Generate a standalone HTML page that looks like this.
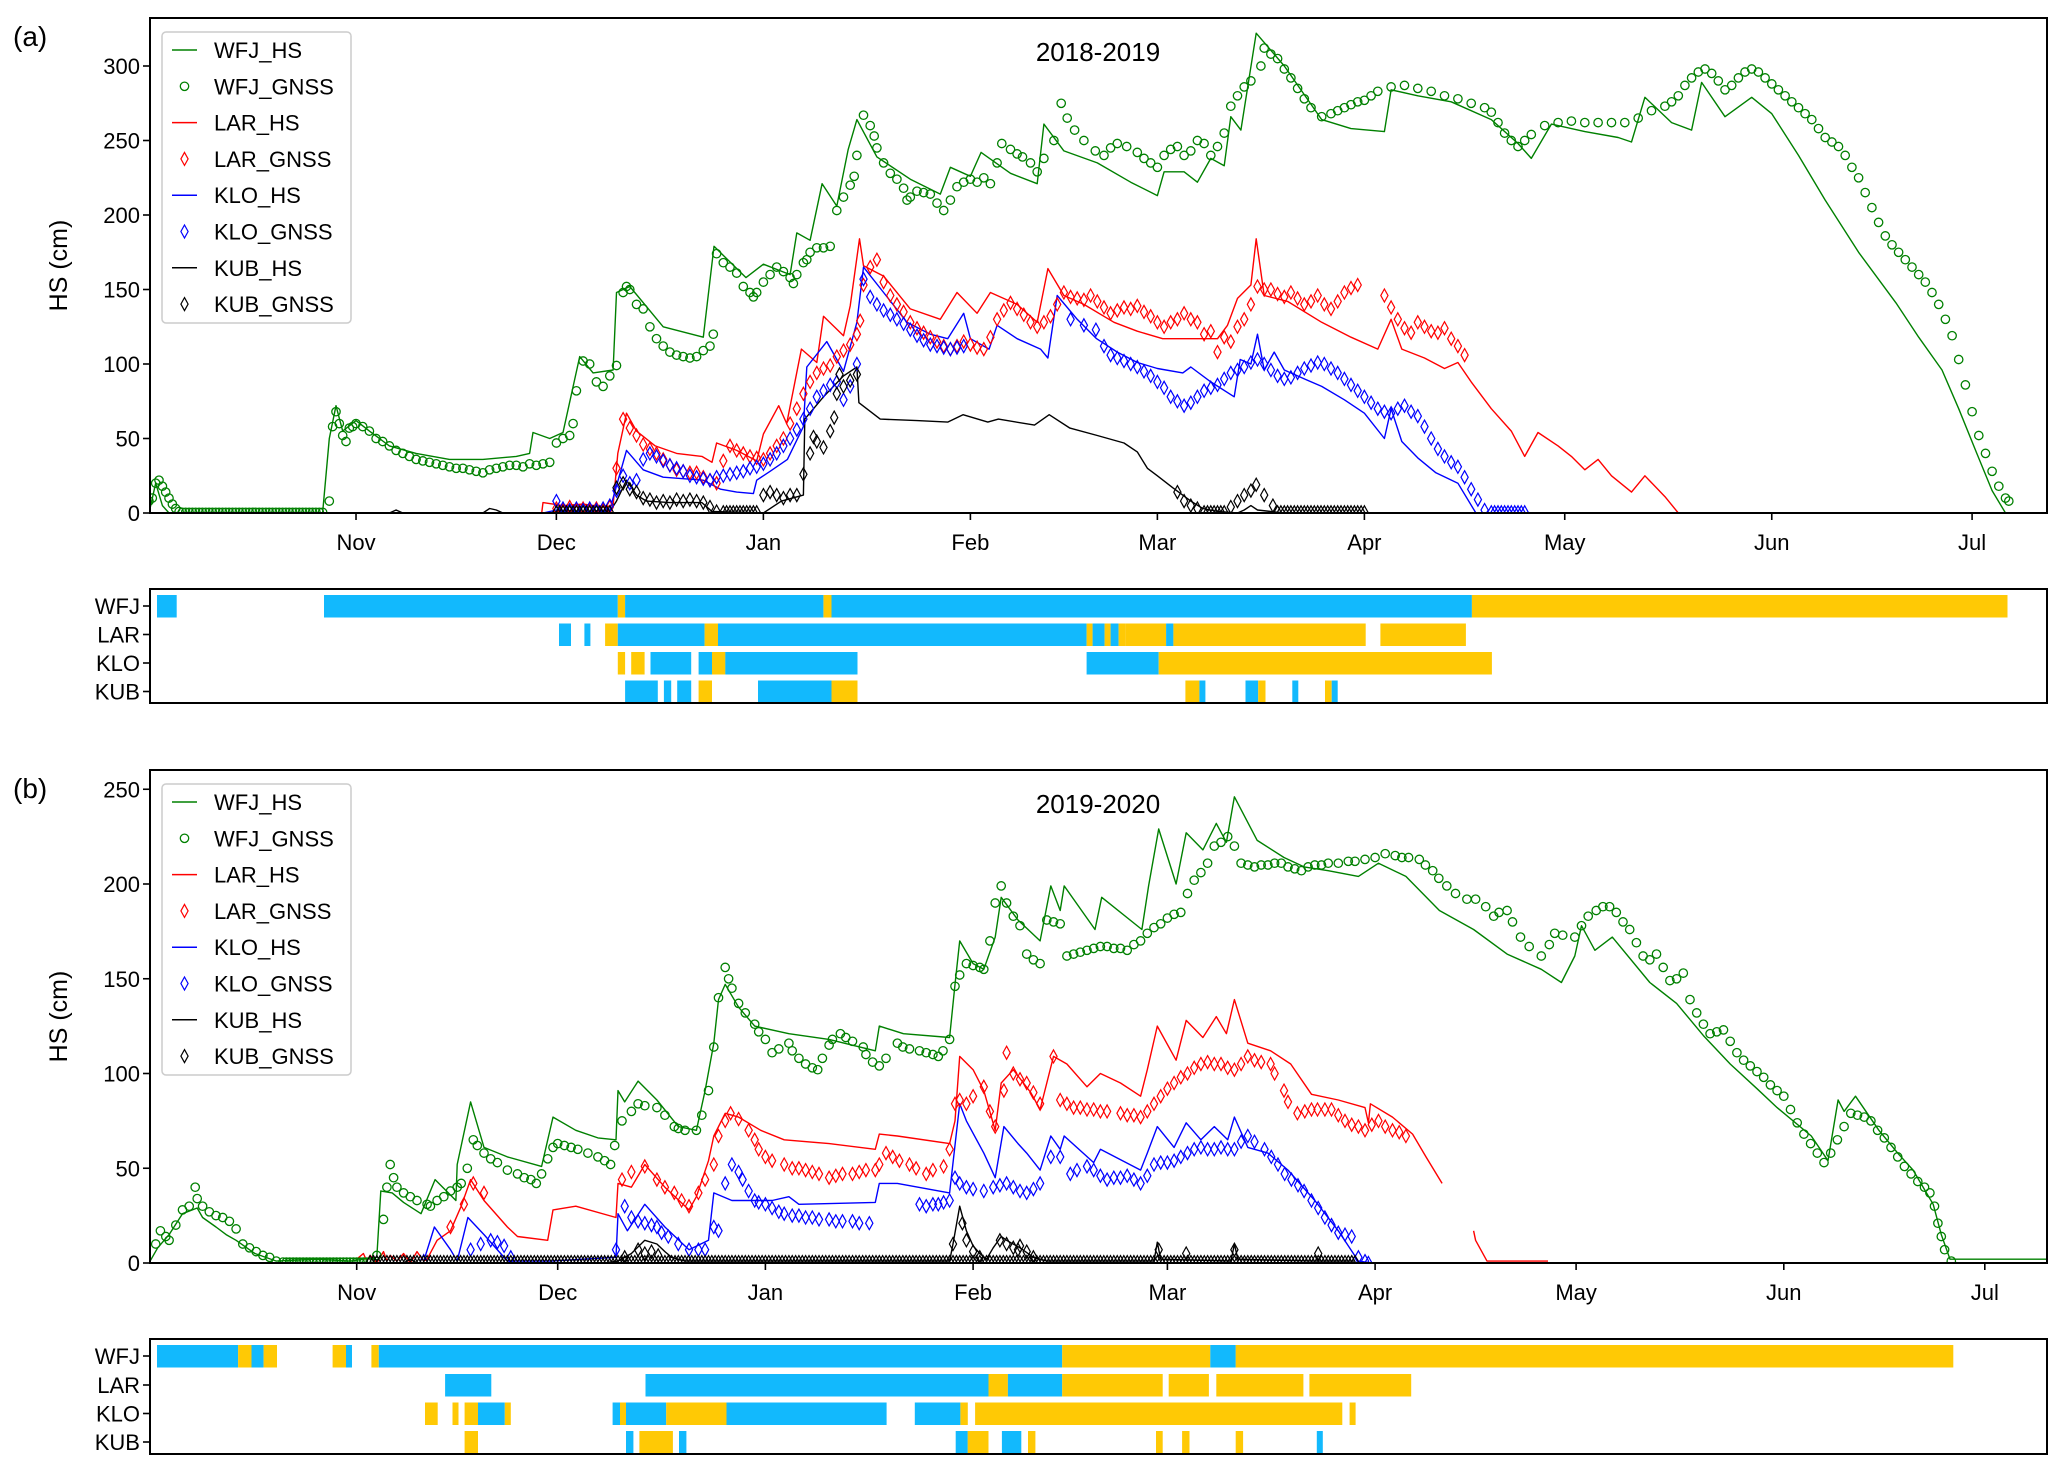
<!DOCTYPE html>
<html><head><meta charset="utf-8"><style>
html,body{margin:0;padding:0;background:#fff;}
svg{display:block;font-family:"Liberation Sans","DejaVu Sans",sans-serif;}
</style></head><body>
<svg id="fig" width="2067" height="1474" viewBox="0 0 2067 1474" xmlns="http://www.w3.org/2000/svg">
<defs>
<clipPath id="clipA"><rect x="150" y="18" width="1897" height="495"/></clipPath>
<clipPath id="clipB"><rect x="150" y="770" width="1897" height="493"/></clipPath>
</defs>
</svg>
<script>
const MONTH_LABELS=["Nov","Dec","Jan","Feb","Mar","Apr","May","Jun","Jul"];
const A_MONTH_DAYS=[31,61,92,123,151,182,212,243,273];
const B_MONTH_DAYS=[31,61,92,123,152,183,213,244,274];
const A_Y_TICKS=[0,50,100,150,200,250,300];
const B_Y_TICKS=[0,50,100,150,200,250];
const STATIONS=["WFJ","LAR","KLO","KUB"];

const A_WFJ_HS=[[0,0],[1,20],[2,5],[3,0],[26,0],[27,50],[28,72],[29,55],[31,62],[33,55],[36,45],[40,40],[45,36],[50,36],[55,38],[57,40],[57.5,54],[60,50],[62,54],[64.5,105],[66.5,94],[69.5,96],[70,148],[72,152],[77,125],[83,118],[84.6,179],[89.4,158],[92,167],[96,160],[97,188],[99,183],[100.8,221],[103,206],[104.7,244],[106,264],[109,239],[114,224],[118.5,214],[120,232],[123,226],[124.6,242],[129,228],[133,221],[134,261],[137,243],[142,235],[147,222],[151,213],[152,229],[155,229],[157,222],[159,238],[161,233],[162,266],[163.5,257],[165.8,322],[170,300],[175.6,264],[180,258],[185,256],[186,284],[190,280],[195,276],[201,264],[205,248],[207,238],[210,261],[215,256],[220,252],[222,249],[224,279],[228,262],[231,257],[232.5,289],[236,266],[240,279],[243,268],[247,240],[251,210],[256,175],[261.6,141],[265,118],[268.5,96],[271,70],[273.7,40],[276,15],[278,0],[284,0]];
const A_WFJ_GNSS=[[0,8],[0.5,10],[1,20],[1.5,22],[2,18],[2.5,14],[3,10],[3.5,6],[4,3],[4.5,1],[27,8],[27.5,58],[28,68],[28.5,60],[29,52],[29.5,48],[30,57],[30.5,58],[31,60],[32,58],[33,55],[34,50],[35,48],[36,45],[37,42],[38,40],[39,38],[40,36],[41,35],[42,34],[43,33],[44,32],[45,31],[46,30],[47,30],[48,29],[49,28],[50,27],[51,29],[52,30],[53,31],[54,32],[55,32],[56,31],[57,33],[58,32],[59,33],[60,34],[61,47],[62,50],[63,52],[63.5,60],[64,82],[65,102],[66,100],[67,88],[68,85],[69,92],[70,99],[71,148],[71.5,152],[72,150],[73,140],[74,137],[75,125],[76,117],[77,112],[78,108],[79,106],[80,105],[81,104],[82,105],[83,109],[84,112],[84.5,120],[85,174],[86,168],[87,165],[88,161],[89,152],[90,148],[90.5,145],[91,148],[92,155],[93,160],[94,165],[95,162],[96,158],[96.5,154],[97,160],[98,168],[98.5,170],[99,175],[100,178],[101,178],[102,179],[103,203],[104,212],[105,220],[105.6,226],[106,240],[107,267],[108,260],[108.6,253],[109,245],[110,235],[111,228],[112,224],[113,218],[113.5,210],[114,212],[115,216],[116,215],[117,214],[118,208],[119,203],[120,210],[121,219],[122,222],[123,224],[124,222],[125,225],[126,221],[127,235],[127.7,248],[129,244],[130,241],[130.8,239],[132,235],[133,229],[134,238],[135.5,250],[136.6,275],[137.5,265],[138.6,257],[140,250],[141.7,243],[143,240],[144,245],[145,248],[146.4,246],[148,242],[149,238],[150,235],[151,232],[152,240],[153,244],[154,246],[155,240],[156,243],[157,250],[158,248],[159,240],[160,246],[161,255],[162,273],[163,280],[164,286],[165,290],[166.5,300],[167,312],[168,308],[169,305],[170,298],[171,292],[172,285],[173,278],[174,272],[175.6,266],[177,268],[178,270],[179,272],[180,274],[181,276],[182,277],[183,280],[184,283],[186,286],[188,287],[190,285],[192,283],[194,280],[196,278],[198,275],[200,272],[201,269],[202,262],[203,255],[204,250],[205,246],[206,250],[207,254],[209,260],[211,262],[213,263],[215,262],[217,262],[219,262],[221,262],[223,265],[225,270],[227,273],[228,276],[229,280],[230,287],[231,292],[232,296],[233,298],[234,295],[235,290],[236,284],[237,287],[238,292],[239,296],[240,298],[241,296],[242,292],[243,288],[244,284],[245,280],[246,276],[247,272],[248,268],[249,264],[250,258],[251,252],[252,249],[253,246],[254,240],[255,232],[256,225],[257,215],[258,205],[259,195],[260,186],[261,180],[262,175],[263,170],[264,165],[265,160],[266,155],[267,148],[268,140],[269,130],[270,119],[271,103],[272,86],[273,68],[274,52],[275,40],[276,28],[277,18],[278,10],[278.5,8]];
const A_WFJ_GNSS_ZEROS=[[5,26]];
const A_LAR_HS=[[58.8,0],[59,7],[62,5],[65,6],[68,4],[69.5,5],[70.2,40],[71.5,67],[73,55],[75.8,45],[79,40],[82.8,38],[84.3,34],[85,47],[88,42],[91,35],[92,53],[94.3,72],[95.5,60],[97.7,110],[100,101],[101,132],[104,119],[105,139],[106.4,184],[107,166],[110,159],[114,137],[118.5,130],[121,148],[124,134],[126,148],[130,140],[133,128],[134.6,164],[137,146],[140,140],[144.5,128],[148,122],[151.8,117],[155,117],[160,117],[161.5,126],[163,144],[165,153],[165.8,184],[167,146],[170.5,142],[175.6,128],[180,118],[184,110],[186,130],[187.6,110],[191,104],[194,97],[196,101],[198,88],[201,70],[204,55],[206,38],[208,54],[211,45],[213,38],[215,29],[217,36],[219,25],[222,14],[224,25],[227,11],[229,0]];
const A_LAR_GNSS=[[61,3],[62,2],[63,4],[64,2],[65,3],[66,2],[67,3],[68,2],[69,4],[70,30],[71,63],[72,57],[73,52],[74,46],[75,43],[76,40],[77,36],[78,32],[79,29],[80,28],[81,27],[82,27],[83,24],[84,22],[85,20],[86,35],[87,45],[88,42],[89,40],[90,38],[91,37],[92,36],[93,40],[94,45],[95,50],[96,60],[97,70],[98,80],[99,88],[100,94],[101,97],[102,99],[103,105],[104,109],[105,113],[106,120],[106.5,129],[107,153],[108,165],[109,170],[110,155],[111,146],[112,140],[113,135],[114,128],[115,124],[116,121],[117,118],[118,115],[119,112],[120,110],[121,112],[122,115],[123,113],[124,111],[125,110],[126,118],[127,130],[128,136],[129,141],[130,137],[131,133],[132,128],[133,125],[134,128],[135,132],[136,140],[137,148],[138,145],[139,144],[140,143],[141,146],[142,142],[143,138],[144,134],[145,136],[146,138],[147,137],[148,139],[149,135],[150,132],[151,128],[152,125],[153,128],[154,130],[155,134],[156,130],[157,128],[158,120],[159,122],[160,108],[161,118],[162,115],[163,125],[164,130],[165,140],[166,152],[167,150],[168,150],[169,147],[170,145],[171,148],[172,144],[173,140],[174,142],[175,146],[176,140],[177,137],[178,142],[179,148],[180,151],[181,153],[185,146],[186,138],[187,130],[188,124],[189,121],[190,128],[191,125],[192,122],[193,121],[194,124],[195,117],[196,112],[197,106]];
const A_KLO_HS=[[59,0],[61,2],[65,1],[69,2],[69.5,10],[71.5,42],[74,29],[77,24],[80,23],[83,22],[85.6,16],[88,14],[90.5,13],[91,22],[93,28],[95.6,36],[98,58],[98.5,98],[101.5,115],[104,95],[106,128],[107,165],[110,148],[113.5,128],[117,120],[119.6,117],[122,134],[123,117],[125.8,110],[127,126],[130,117],[133.5,110],[134.6,104],[136,146],[139,130],[141.9,117],[145,108],[148,101],[151,97],[154.8,94],[156,98],[159,88],[162.5,78],[163.4,103],[165,100],[166,120],[167,96],[168.5,108],[170,96],[173,90],[175.6,85],[179,76],[182,67],[185,50],[186,70],[187.6,48],[190,37],[192.7,27],[196,20],[198.7,0],[206,0]];
const A_KLO_GNSS=[[61,8],[62,3],[63,2],[64,3],[65,2],[66,3],[67,2],[68,3],[69,5],[70,15],[71,25],[72,20],[73,22],[74,36],[75,40],[76,38],[77,35],[78,32],[79,30],[80,28],[81,25],[82,24],[83,23],[84,22],[85,24],[86,25],[87,26],[88,27],[89,28],[90,30],[91,31],[92,33],[93,36],[94,40],[95,45],[96,50],[97,56],[98,63],[99,70],[100,78],[101,82],[102,86],[103,88],[104,76],[105,85],[106,100],[107,157],[108,145],[109,140],[110,136],[111,133],[112,130],[113,127],[114,123],[115,119],[116,116],[117,113],[118,112],[119,111],[120,110],[121,111],[122,112],[138,130],[140,126],[141.8,123],[143,112],[144,106],[145,104],[146,102],[147,100],[148,98],[149,95],[150,92],[151,88],[152,84],[153,78],[154,75],[155,72],[156,74],[157,78],[158,82],[159,84],[160,86],[161,90],[162,94],[163,96],[164,98],[165,101],[166,103],[167,100],[168,96],[169,92],[170,90],[171,91],[172,94],[173,97],[174,99],[175,101],[176,100],[177,97],[178,94],[179,90],[180,86],[181,82],[182,78],[183,74],[184,70],[185,68],[186,67],[187,70],[188,72],[189,68],[190,65],[191,58],[192,50],[193,43],[194,38],[195,34],[196,31],[197,24],[198,16],[199,9],[200,2]];
const A_KLO_GNSS_ZEROS=[[201,206]];
const A_KUB_HS=[[30,0],[36,0],[37,2],[38,0],[50,0],[51,3],[52,2],[53,0],[60,0],[61,1],[69,1],[70,8],[71.5,22],[73,12],[74.5,8],[78,7],[82.8,7],[84.3,1],[92,0],[94.7,8],[98,12],[98.2,63],[101,78],[104,92],[106,98],[106.3,74],[109.5,63],[115,62],[119.6,61],[121.9,66],[125.6,61],[127.2,63],[132.6,59],[134.8,66],[137.9,57],[142,52],[146,47],[148,41],[149.5,30],[151,25],[153.3,17],[156,8],[157.8,3],[160,1],[163,0],[164,2],[165,5],[166,2],[170,0],[182,0]];
const A_KUB_GNSS=[[70,17],[71,20],[72,16],[73,14],[74,10],[75,9],[76,7],[77,8],[78,7],[79,9],[80,8],[81,9],[82,8],[83,7],[84,4],[85,1],[92,12],[93,14],[94,12],[95,10],[96,12],[97,12],[98,26],[99,40],[99.5,51],[100,48],[101,44],[102,55],[102.6,64],[103,80],[103.4,93],[104,85],[105,89],[106,93],[154,14],[155,8],[156,5],[157,3],[162,4],[163,8],[164,12],[165,15],[165.8,19],[167,12],[168.3,5]];
const A_KUB_GNSS_ZEROS=[[61,69],[86,91],[158,161],[169,182]];

const B_WFJ_HS=[[0,0],[1.3,8],[3,15],[5,26],[7.2,29],[8,24],[10,19],[11.5,15],[13,12],[15.8,5],[19,1],[25,2],[30,1],[34,3],[34.6,38],[36.3,37],[38,32],[40.6,26],[42.7,44],[45.8,33],[46,52],[48,85],[50,61],[53.5,56],[58.6,51],[60.3,77],[63.7,70],[67,66],[69.7,65],[70,91],[71,85],[73,96],[75.8,86],[79,72],[81.7,70],[83,91],[84.3,116],[85,139],[86,147],[88,135],[90.4,125],[95.5,121],[101.5,118],[108.4,112],[109,125],[112.6,121],[119.5,119],[120.3,147],[121,170],[123,158],[124.6,155],[126.3,172],[127.2,193],[129.7,181],[133,170],[134.6,199],[136,186],[136.6,199],[141.2,176],[142.2,193],[148.2,176],[149.2,199],[150.7,229],[153.3,200],[154.8,227],[157.3,218],[159.3,232],[160.8,222],[162,246],[165.4,223],[169.4,214],[172.4,209],[176,207],[180.5,204],[183.5,211],[187.6,204],[192.6,186],[197.7,176],[202.7,163],[207.8,155],[210.8,148],[212.8,162],[213.8,178],[215.8,165],[218.4,172],[224,148],[228,137],[232,120],[236,105],[240,92],[243,82],[248.1,67],[250.6,54],[252.1,86],[253,80],[254.7,88],[258.2,70],[261,58],[263.3,49],[266.3,31],[267.5,15],[268.8,2],[284,2]];
const B_WFJ_GNSS=[[1,10],[1.7,17],[2.5,14],[3,12],[4,20],[5,28],[6,30],[6.9,40],[7.2,34],[8,30],[9,27],[10,25],[11,24],[12,22],[13,18],[14,10],[15,8],[16,6],[17,4],[18,3],[19,1],[34,4],[35,23],[35.5,40],[36,52],[36.5,45],[37,40],[38,37],[39,35],[40,33],[41.5,31],[42,30],[43,33],[44,35],[45,38],[46,40],[46.6,42],[47.5,50],[48.4,65],[49,62],[50,58],[51,55],[52,53],[53.5,49],[55,47],[56,45],[57,44],[57.8,42],[58.6,47],[59.5,55],[60.3,61],[61,63],[62,62],[63,61],[64,60],[65.5,58],[67,56],[68,54],[68.9,52],[69.5,62],[70.6,75],[72,80],[73,84],[74,83],[75.8,82],[77,78],[78.4,72],[79,71],[80,70],[81.7,70],[82.5,78],[83.5,91],[84.3,114],[85,140],[86,156],[86.5,150],[87,145],[88,137],[89,132],[90.4,126],[91,122],[92,118],[93,111],[94,113],[95.5,116],[96,112],[97,108],[98,105],[99,103],[99.8,102],[100.5,108],[101.5,115],[102,118],[103.2,121],[104,119],[105,117],[106.6,114],[107,110],[108,106],[109,104],[110,108],[111.7,116],[112.5,114],[113.5,113],[115,112],[116,111],[117,110],[117.8,109],[118.5,112],[119.5,118],[120.3,146],[121,152],[122,158],[123,157],[124,156],[124.6,155],[125.5,170],[126.3,190],[127.2,199],[128,190],[129,183],[130,178],[131,163],[132,160],[133,158],[134,181],[135,180],[136,179],[137,162],[138,163],[139,164],[140,165],[141,166],[142,167],[143,167],[144,166],[145,166],[146,165],[147,168],[148,170],[149,174],[150,177],[151,179],[152,182],[153,184],[154,185],[155,195],[156,202],[157,206],[158,211],[159,220],[160,222],[161,225],[162,220],[163,211],[164,210],[165,209],[166,210],[167,210],[168,211],[169,211],[170,209],[171,208],[172,207],[173,209],[174,210],[175,210],[176,211],[177.5,211],[179,212],[180,212],[181.5,213],[183,214],[184.5,216],[186,215],[187,214],[188,214],[189.6,213],[190.5,210],[191.6,207],[192.5,203],[193.7,199],[195,195],[196.7,192],[198,192],[199.5,188],[200.7,183],[201.5,185],[202.7,186],[203.5,180],[204.7,172],[206,167],[207.8,162],[209,168],[209.8,174],[211,173],[212.8,172],[213.8,178],[214.8,183],[216,186],[217,188],[218,188],[219,185],[220,180],[221,176],[222,169],[223,162],[224,160],[225,163],[226,156],[227,149],[228,150],[229,153],[230,139],[231,132],[232,126],[233,121],[234,122],[235,123],[236,117],[237,111],[238,107],[239,104],[240,101],[241,98],[242,94],[243,91],[244,88],[245,81],[246,74],[247,68],[248,63],[249,58],[250,53],[251,58],[252,65],[253,72],[254,79],[255,78],[256,77],[257,75],[258,70],[259,66],[260,61],[261,56],[262,51],[263,47],[264,43],[265,40],[265.8,37],[266.5,30],[267,21],[267.5,14],[268,7],[269,1]];
const B_WFJ_GNSS_ZEROS=[[20,33]];
const B_LAR_HS=[[31,2],[32,5],[32.5,1],[33,4],[34,0],[35,6],[35.5,1],[36,4],[37,1],[38,5],[39,0],[40,6],[41,1],[41.5,2],[43,12],[45,17],[46.6,30],[48,44],[50,33],[53.5,19],[55,14],[59.5,12],[60.3,28],[63.7,30],[69.7,24],[70,42],[72,40],[74,52],[77,40],[80.6,28],[81.7,35],[83.5,54],[84.3,67],[86,79],[88,77],[91.3,70],[94.8,65],[101.5,63],[108.4,60],[109,68],[111.7,67],[119.5,63],[120.3,75],[121,109],[123,102],[124.6,91],[126.3,70],[127.2,95],[129,102],[131.6,90],[133,81],[135,109],[137,105],[140,93],[142,100],[145,95],[148,88],[149,102],[150.5,125],[153.3,107],[154.8,128],[157.3,119],[159.3,130],[160.8,121],[162,139],[164,116],[167.4,112],[170.4,105],[173.5,89],[177.5,86],[181.5,82],[182,74],[182.3,84],[185.6,77],[188.6,68],[190.6,56],[193,42]];
const B_LAR_HS_LATE=[[197.7,17],[198,12],[199.7,1],[208.8,1]];
const B_LAR_GNSS=[[45,19],[47,31],[48.4,42],[50,37],[70.6,44],[72,48],[74,51],[75.8,44],[77,40],[78.4,37],[79.5,33],[80.6,30],[82,37],[83,44],[84.3,52],[85,67],[86,75],[86.8,79],[88,76],[89.5,70],[90.4,65],[91,60],[92,56],[93,54],[94.8,52],[96,50],[97,50],[98,49],[99,48],[100,47],[101.5,45],[102.5,46],[103.5,47],[105,47],[106,48],[107,49],[108.4,49],[109,52],[110,58],[111,56],[112,54],[113.5,52],[114.5,50],[116,47],[117,49],[118.6,51],[119.5,60],[120.3,84],[121,86],[122,84],[123,88],[124.6,93],[125.5,80],[126.3,72],[127.6,91],[128,111],[129,100],[130,97],[131,95],[132,90],[133,84],[135,109],[136,86],[137,84],[138,82],[139,82],[140,81],[141,81],[142,80],[143,80],[145,79],[146,78],[147,78],[148,77],[149,80],[150,84],[151,88],[152,92],[153,95],[154,98],[155,100],[156,103],[157,105],[158,106],[159,105],[160,105],[161,103],[162,102],[163,105],[164,109],[165,107],[166,106],[167.4,105],[168,100],[169.4,91],[170,85],[171.4,79],[172.5,80],[173.5,81],[174.4,81],[175.5,81],[176.5,81],[177.5,78],[178.5,75],[179.5,73],[180.5,72],[181.5,70],[182.5,73],[183.5,75],[184.5,72],[185.6,70],[186.6,69],[187.6,67]];
const B_KLO_HS=[[41,1],[42.6,19],[45,7],[46,1],[47.6,24],[50,15],[53.5,1],[60,1],[69.7,3],[70,26],[71.4,17],[74,31],[77,19],[80.6,7],[83.5,12],[84.3,37],[87,33],[89.5,33],[93,33],[95.5,35],[97,31],[108.4,32],[109,42],[111.7,42],[119.5,37],[121,84],[122,75],[124.6,58],[126.3,45],[127.6,72],[129.7,63],[131,58],[133,49],[134.6,67],[136,60],[136.6,67],[141,53],[142,60],[148,49],[149,58],[150.5,72],[153,61],[154.8,74],[157,65],[159,72],[161,65],[162,77],[164,61],[167,58],[170,49],[174,33],[177.5,17],[180.5,1],[182.5,0]];
const B_KLO_GNSS=[[41,1],[48,7],[49.5,10],[51,12],[52,11],[53,9],[54,3],[69.7,7],[71,30],[72,24],[73,22],[74,21],[75,20],[75.8,19],[76.5,16],[77.5,14],[79,10],[80.6,7],[82,7],[83,7],[84.3,19],[85,17],[86,42],[87,52],[88,48],[88.6,44],[89.5,38],[90.4,33],[91,32],[92,31],[93,29],[94,27],[94.8,26],[96,25],[97,25],[98,24],[99,24],[100,23],[101.5,23],[102.5,22],[103.5,22],[105,22],[106,21],[107.5,21],[115,31],[116,30],[117,31],[117.8,31],[118.6,32],[119.5,33],[120.3,45],[121,42],[122,40],[123,39],[124.6,38],[126,40],[127,41],[128,42],[129,40],[130,38],[131,37],[132,39],[133,42],[134.6,56],[136,56],[137.5,47],[138.5,49],[140,51],[141,49],[142,46],[143,44],[144,45],[145,45],[146,46],[147,44],[148,42],[149,46],[150,52],[151,53],[152,53],[153,54],[154,56],[155,58],[156,60],[157,61],[158,60],[159,60],[160,61],[161,60],[162,60],[163,64],[164,67],[165,64],[166.5,60],[167.5,56],[168.5,52],[169.5,47],[170.5,44],[171.5,41],[172.4,38],[173.5,33],[174.5,29],[175.5,24],[176.5,20],[177.5,16],[178.5,15],[179.5,14],[180.5,3],[181.5,1],[182,0]];
const B_KUB_HS=[[31,0],[38,0],[39,2],[40,0],[68,0],[70,1],[72,5],[74,12],[75.8,10],[77,6],[78,3],[80,1],[119.5,1],[120,10],[121,30],[122,17],[123,9],[124,5],[125,2],[126,8],[127.2,14],[128,12],[130,8],[132,3],[134,1],[150,1],[150.5,11],[151,2],[161.5,1],[162,10],[162.5,2],[174,1],[180,1]];
const B_KUB_GNSS=[[71,3],[73,7],[74,5],[75,6],[76,4],[120,10],[121.4,21],[122,12],[123,6],[124,3],[127,12],[128,10],[129,8],[129.7,7],[130,9],[131,6],[132,3],[150.7,7],[154.8,5],[162,7],[174.5,5]];
const B_KUB_GNSS_ZEROS=[[33,180]];

// availability bars: [startDay, endDay, type]  type 1 = blue, 2 = yellow
const A_BARS_WFJ=[[1.2,4.15,1],[26.2,70.2,1],[70.2,71.3,2],[71.3,101,1],[101,102.2,2],[102.2,198.1,1],[198.1,278.3,2]];
const A_BARS_LAR=[[61.4,63.2,1],[65.2,66.1,1],[68.3,70.2,2],[70.2,83.2,1],[83.2,85.2,2],[85.2,140.4,1],[140.4,141.3,2],[141.3,143.1,1],[143.1,144,2],[144,145.2,1],[145.2,146.3,2],[146.3,152.3,2],[152.3,153.4,1],[153.4,182.2,2],[184.4,197.2,2]];
const A_BARS_KLO=[[70.2,71.3,2],[72.2,74.2,2],[75.1,81.2,1],[82.3,84.3,1],[84.3,86.3,2],[86.3,106.1,1],[140.4,151.2,1],[151.2,201.1,2]];
const A_BARS_KUB=[[71.3,76.2,1],[77.1,78.2,1],[79.1,81.2,1],[82.3,84.3,2],[91.2,102.2,1],[102.2,106.1,2],[155.2,157.3,2],[157.3,158.2,1],[164.2,166.1,1],[166.1,167.2,2],[171.2,172.1,1],[176.1,177.1,2],[177.1,178,1]];
const B_BARS_WFJ=[[1.2,13.3,1],[13.3,15.3,2],[15.3,17.1,1],[17.1,19.1,2],[27.4,29.4,2],[29.4,30.3,1],[33.2,34.3,2],[34.3,136.3,1],[136.3,158.4,2],[158.4,162.2,1],[162.2,269.3,2]];
const B_BARS_LAR=[[44.2,51.1,1],[74.1,125.3,1],[125.3,128.2,2],[128.2,136.3,1],[136.3,151.3,2],[152.2,158.2,2],[159.3,172.3,2],[173.2,188.4,2]];
const B_BARS_KLO=[[41.2,43.1,2],[45.3,46.2,2],[47.1,49.1,2],[49.1,53.1,1],[53.1,54,2],[69.2,70.3,1],[70.3,71.2,2],[71.2,77.2,1],[77.2,86.2,2],[86.2,110.1,1],[114.3,121.1,1],[121.1,122.2,2],[123.3,178.1,2],[179.2,180.1,2]];
const B_BARS_KUB=[[47.1,49.1,2],[71.2,72.3,1],[73.2,78.2,2],[79.1,80.2,1],[120.4,122.2,1],[122.2,125.3,2],[127.3,130.2,1],[131.2,132.3,2],[150.3,151.3,2],[154.2,155.3,2],[162.2,163.3,2],[174.3,175.2,1]];

const NS="http://www.w3.org/2000/svg";
const svg=document.getElementById("fig");
function mk(tag,attrs,parent){const e=document.createElementNS(NS,tag);for(const k in attrs)e.setAttribute(k,attrs[k]);(parent||svg).appendChild(e);return e;}

const PA={x:d=>149+d*6.678,y:v=>513-v*1.49,top:18,bot:513,clip:"url(#clipA)"};
const PB={x:d=>149+d*6.70,y:v=>1263-v*1.895,top:770,bot:1263,clip:"url(#clipB)"};
const L=150,R=2047;
const COL={WFJ:"#008000",LAR:"#ff0000",KLO:"#0000ff",KUB:"#000000"};
const BARCOL={1:"#12b9fd",2:"#ffc905"};

function txt(x,y,s,size,anchor,parent){const t=mk("text",{x:x,y:y,"font-size":size,"text-anchor":anchor||"start",fill:"#000"},parent);t.textContent=s;return t;}

function linePath(data,P,name,color,parent){
  const d=data.map((p,i)=>(i?"L":"M")+P.x(p[0]).toFixed(1)+","+P.y(p[1]).toFixed(1)).join("");
  const e=mk("path",{d:d,fill:"none",stroke:color,"stroke-width":1.4,"stroke-linejoin":"round"},parent);
  
  
}
function marker(kind,cx,cy,color,parent){
  if(kind==="o")return mk("circle",{cx:cx.toFixed(1),cy:cy.toFixed(1),r:4.2,fill:"none",stroke:color,"stroke-width":1.3},parent);
  return mk("path",{d:`M${cx.toFixed(1)},${(cy-6.5).toFixed(1)}L${(cx+3.6).toFixed(1)},${cy.toFixed(1)}L${cx.toFixed(1)},${(cy+6.5).toFixed(1)}L${(cx-3.6).toFixed(1)},${cy.toFixed(1)}Z`,fill:"none",stroke:color,"stroke-width":1.2},parent);
}
function markers(data,zeros,P,kind,name,color,parent){
  const g=mk("g",{},parent);
  
  
  data.forEach(p=>marker(kind,P.x(p[0]),P.y(p[1]),color,g));
  (zeros||[]).forEach(r=>{for(let d=r[0];d<=r[1];d+=0.5)marker(kind,P.x(d),P.y(0.5),color,g);});
}

function mainPanel(P,label,title,monthDays,yTicks,S,prefix){
  const g=mk("g",{});
  
  
  const plot=mk("g",{"clip-path":P.clip},g);
  
  
  S.lines.forEach(s=>linePath(s.data,P,prefix+'-'+s.name,s.color,plot));
  S.marks.forEach(s=>markers(s.data,s.zeros,P,s.kind,prefix+'-'+s.name,s.color,plot));
  const fr=mk("rect",{x:L,y:P.top,width:R-L,height:P.bot-P.top,fill:"none",stroke:"#000","stroke-width":2},g);
  
  
  monthDays.forEach((d,i)=>{
    const x=P.x(d);
    mk("line",{x1:x,y1:P.bot,x2:x,y2:P.bot+7,stroke:"#000","stroke-width":1.6},g);
    const t=txt(x,P.bot+37,MONTH_LABELS[i],22,"middle",g);
    
    
  });
  yTicks.forEach(v=>{
    const y=P.y(v);
    mk("line",{x1:L-7,y1:y,x2:L,y2:y,stroke:"#000","stroke-width":1.6},g);
    const t=txt(L-10,y+8,String(v),22,"end",g);
    
    
  });
  const yc=(P.top+P.bot)/2;
  const yt=mk("text",{x:0,y:0,"font-size":25,"text-anchor":"middle",transform:`translate(67,${yc}) rotate(-90)`},g);
  yt.textContent="HS (cm)";
  
  
  const tt=txt(1098,P.top+43,title,26,"middle",g);
  
  
  const pl=txt(13,P.top+28,label,28,"start",g);
  
  
  const lg=mk("g",{},g);
  
  
  mk("rect",{x:162,y:P.top+14,width:189,height:291,rx:4,fill:"#fff","fill-opacity":0.85,stroke:"#cccccc","stroke-width":1.5},lg);
  const entries=[["WFJ_HS","l","WFJ"],["WFJ_GNSS","o","WFJ"],["LAR_HS","l","LAR"],["LAR_GNSS","d","LAR"],["KLO_HS","l","KLO"],["KLO_GNSS","d","KLO"],["KUB_HS","l","KUB"],["KUB_GNSS","d","KUB"]];
  entries.forEach((e,i)=>{
    const y=P.top+32+i*36.3;
    const eg=mk("g",{},lg);
    
    
    if(e[1]==="l")mk("line",{x1:172,y1:y,x2:197,y2:y,stroke:COL[e[2]],"stroke-width":1.5},eg);
    else marker(e[1],184.5,y,COL[e[2]],eg);
    txt(214,y+8,e[0],22,"start",eg);
  });
}

function barPanel(P,top,bot,rowTops,bars,prefix){
  const g=mk("g",{});
  
  
  bars.forEach((rows,i)=>{
    const rg=mk("g",{},g);
    
    
    rows.forEach(b=>{
      const x0=Math.max(L,P.x(b[0])),x1=P.x(b[1]);
      const r=mk("rect",{x:x0.toFixed(1),y:rowTops[i],width:Math.max(1,x1-x0).toFixed(1),height:22.5,fill:BARCOL[b[2]]},rg);
      
      
    });
    const yc=rowTops[i]+11;
    mk("line",{x1:L-7,y1:yc,x2:L,y2:yc,stroke:"#000","stroke-width":1.6},g);
    const t=txt(L-10,yc+8,STATIONS[i],22,"end",g);
    
    
  });
  const fr=mk("rect",{x:L,y:top,width:R-L,height:bot-top,fill:"none",stroke:"#000","stroke-width":2},g);
  
  
}

mainPanel(PA,"(a)","2018-2019",A_MONTH_DAYS,A_Y_TICKS,{
  lines:[{name:"wfj-hs-line",data:A_WFJ_HS,color:COL.WFJ},{name:"lar-hs-line",data:A_LAR_HS,color:COL.LAR},{name:"klo-hs-line",data:A_KLO_HS,color:COL.KLO},{name:"kub-hs-line",data:A_KUB_HS,color:COL.KUB}],
  marks:[{name:"wfj-gnss-markers",data:A_WFJ_GNSS,zeros:A_WFJ_GNSS_ZEROS,kind:"o",color:COL.WFJ},{name:"lar-gnss-markers",data:A_LAR_GNSS,kind:"d",color:COL.LAR},{name:"klo-gnss-markers",data:A_KLO_GNSS,zeros:A_KLO_GNSS_ZEROS,kind:"d",color:COL.KLO},{name:"kub-gnss-markers",data:A_KUB_GNSS,zeros:A_KUB_GNSS_ZEROS,kind:"d",color:COL.KUB}]
},"panel-a");
barPanel(PA,589,703,[595,623.5,652,680.5],[A_BARS_WFJ,A_BARS_LAR,A_BARS_KLO,A_BARS_KUB],"panel-a");

mainPanel(PB,"(b)","2019-2020",B_MONTH_DAYS,B_Y_TICKS,{
  lines:[{name:"wfj-hs-line",data:B_WFJ_HS,color:COL.WFJ},{name:"lar-hs-line",data:B_LAR_HS,color:COL.LAR},{name:"lar-hs-line-late",data:B_LAR_HS_LATE,color:COL.LAR},{name:"klo-hs-line",data:B_KLO_HS,color:COL.KLO},{name:"kub-hs-line",data:B_KUB_HS,color:COL.KUB}],
  marks:[{name:"wfj-gnss-markers",data:B_WFJ_GNSS,zeros:B_WFJ_GNSS_ZEROS,kind:"o",color:COL.WFJ},{name:"lar-gnss-markers",data:B_LAR_GNSS,kind:"d",color:COL.LAR},{name:"klo-gnss-markers",data:B_KLO_GNSS,kind:"d",color:COL.KLO},{name:"kub-gnss-markers",data:B_KUB_GNSS,zeros:B_KUB_GNSS_ZEROS,kind:"d",color:COL.KUB}]
},"panel-b");
barPanel(PB,1339,1454,[1345,1374,1402.5,1431],[B_BARS_WFJ,B_BARS_LAR,B_BARS_KLO,B_BARS_KUB],"panel-b");
</script>
</body></html>
